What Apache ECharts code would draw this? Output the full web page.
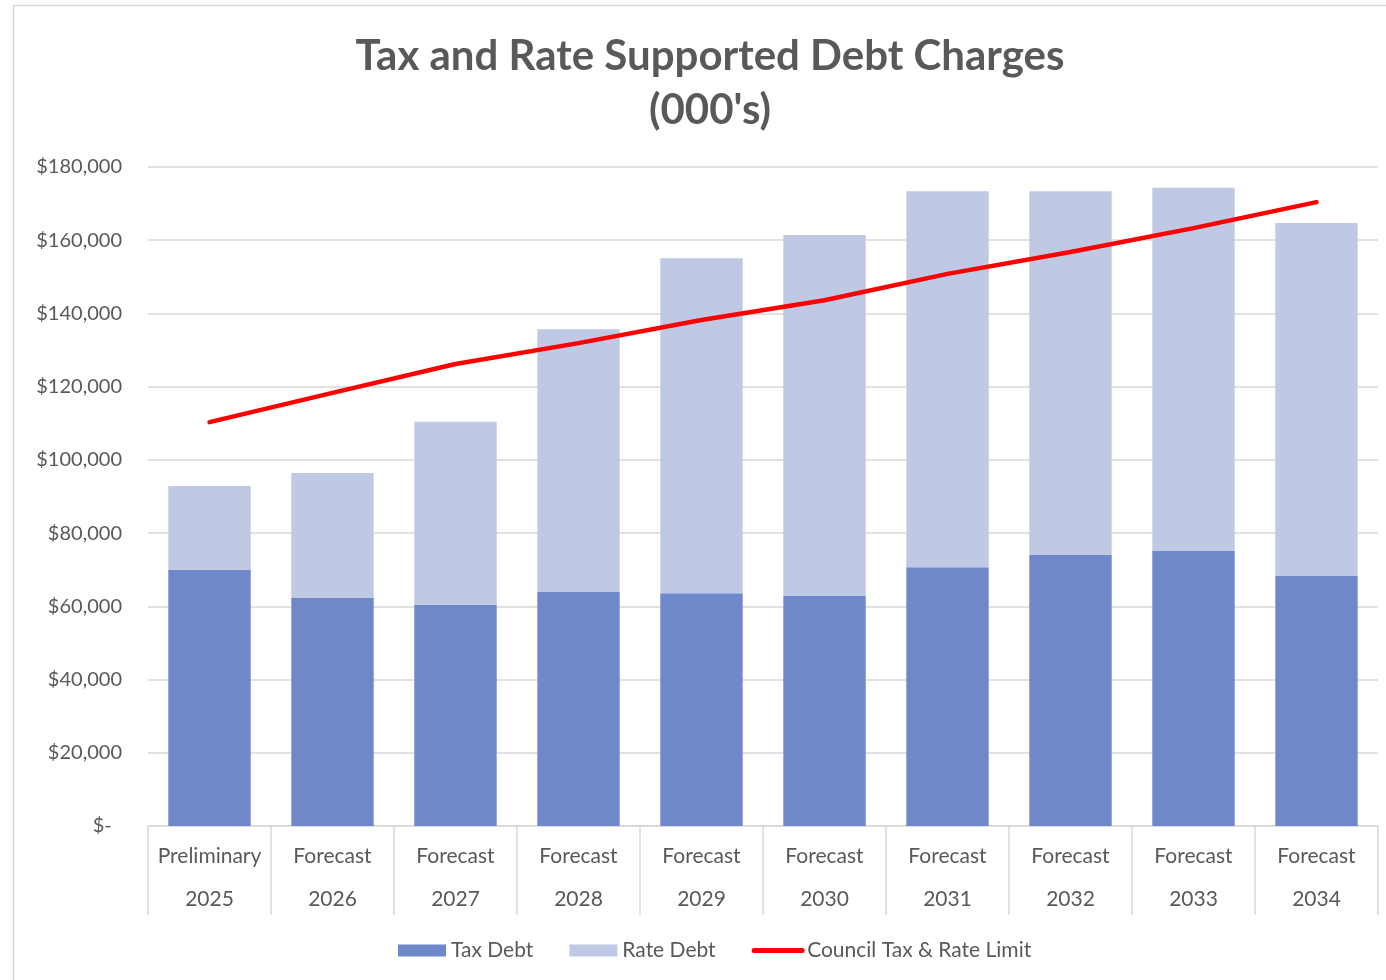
<!DOCTYPE html>
<html>
<head>
<meta charset="utf-8">
<script src="https://cdn.jsdelivr.net/npm/echarts@6/dist/echarts.min.js"></script>
<style>
html,body{margin:0;padding:0;background:#fff;}
#chart{width:1386px;height:980px;}
</style>
</head>
<body>
<div id="chart"></div>
<script>
const categories = ['Preliminary\n2025','Forecast\n2026','Forecast\n2027','Forecast\n2028','Forecast\n2029','Forecast\n2030','Forecast\n2031','Forecast\n2032','Forecast\n2033','Forecast\n2034'];
const taxDebt = [70000, 62300, 60400, 63900, 63600, 62800, 70700, 74000, 75100, 68300];
const rateDebt = [22900, 34100, 50000, 71800, 91500, 98600, 102700, 99400, 99200, 96400];
const limitLine = [110300, 118300, 126200, 131900, 138200, 143600, 150800, 156800, 163300, 170400];

const chart = echarts.init(document.getElementById('chart'));
const font = 'Lato, "Open Sans", sans-serif';
chart.setOption({
  animation: false,
  textStyle: {fontFamily: font},
  graphic: [{type:'rect', shape:{x:13.5,y:5.5,width:1400,height:1000}, style:{fill:'none', stroke:'#d9d9d9', lineWidth:1.5}, silent:true}],
  title: {
    text: "Tax and Rate Supported Debt Charges\n(000's)",
    left: 705, textAlign: 'center', top: 24,
    textStyle: {fontFamily: font, fontSize: 42, fontWeight: 'bold', color: '#595959', lineHeight: 54}
  },
  legend: {
    bottom: 14, left: 393, itemGap: 36, itemWidth: 48, itemHeight: 12,
    textStyle: {fontSize: 21, color: '#595959', fontFamily: font},
    data: [
      {name:'Tax Debt', icon:'rect'},
      {name:'Rate Debt', icon:'rect'},
      {name:'Council Tax & Rate Limit', itemStyle:{opacity:0}, lineStyle:{width:5, color:'#ff0000'}}
    ]
  },
  grid: {left: 148, right: 8, top: 167, bottom: 154, containLabel: false},
  xAxis: {
    type: 'category', data: categories,
    axisLine: {lineStyle: {color: '#d9d9d9', width: 1.5}},
    axisTick: {show: true, length: 89, lineStyle: {color: '#d9d9d9', width: 1.5}},
    axisLabel: {interval: 0, align: 'center', fontSize: 21, color: '#595959', lineHeight: 43, margin: 9, fontFamily: font}
  },
  yAxis: {
    type: 'value', min: 0, max: 180000, interval: 20000,
    axisLine: {show: false}, axisTick: {show: false},
    splitLine: {lineStyle: {color: '#d9d9d9', width: 1.5}},
    axisLabel: {fontSize: 20, color: '#595959', margin: 26, fontFamily: font,
      formatter: v => v === 0 ? '$-  ' : '$' + v.toLocaleString('en-US')}
  },
  series: [
    {name:'Tax Debt', type:'bar', stack:'d', data: taxDebt, barCategoryGap:'33%', itemStyle:{color:'#6e88c9'}},
    {name:'Rate Debt', type:'bar', stack:'d', data: rateDebt, itemStyle:{color:'#bfc9e3'}},
    {name:'Council Tax & Rate Limit', type:'line', data: limitLine, symbol:'none',
      lineStyle:{color:'#ff0000', width:4.5, cap:'round'}, itemStyle:{color:'#ff0000'}}
  ]
});
</script>
</body>
</html>
